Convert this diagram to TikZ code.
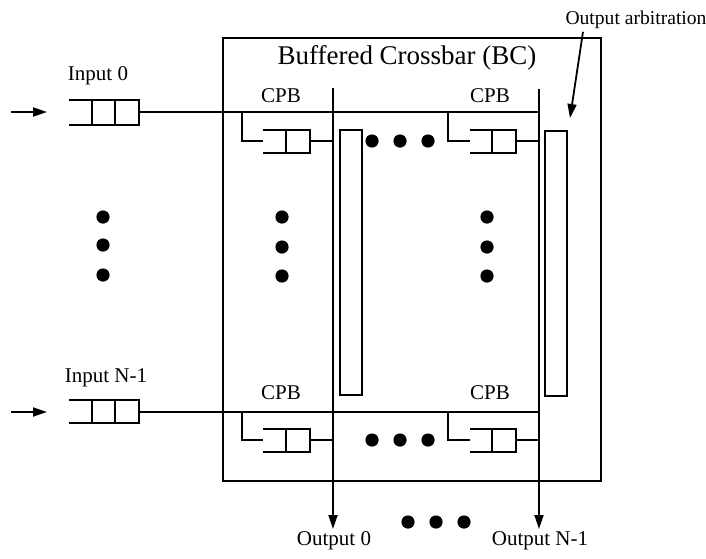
\documentclass[tikz,border=0pt]{standalone}
\usepackage{fontspec}
\setmainfont{Liberation Serif}
\usetikzlibrary{arrows.meta}
\tikzset{
  lbl/.style={font=\fontsize{10.5}{12}\selectfont, inner sep=1pt},
  arbbar/.style={draw, minimum width=11pt, minimum height=132.5pt, inner sep=0pt},
  arr/.style={-{Triangle[length=7pt,width=4.5pt]}}
}

\begin{document}
\begin{tikzpicture}[x=0.5pt,y=-0.5pt,line width=0.9pt]
\useasboundingbox (0,0) rectangle (706,558);
% crossbar box
\draw (223,38) rectangle (601,481);
\node[font=\fontsize{13.5}{16}\selectfont] (title) at (407,58) {Buffered Crossbar (BC)};
% input 0
\node[lbl] (lin0) at (98,76) {Input 0};
\coordinate (src0) at (11,112);
\coordinate (q0in) at (47,112);
\draw[arr] (src0) -- (q0in);
\draw (69,100) -- (139,100) -- (139,125) -- (69,125);
\draw (92,100) -- (92,125);
\draw (115,100) -- (115,125);
\coordinate (q0out) at (139,112);
% input N-1
\node[lbl] (linN) at (106,378) {Input N-1};
\coordinate (srcN) at (11,412);
\coordinate (qNin) at (47,412);
\draw[arr] (srcN) -- (qNin);
\draw (69,400) -- (139,400) -- (139,423) -- (69,423);
\draw (92,400) -- (92,423);
\draw (115,400) -- (115,423);
\coordinate (qNout) at (139,412);
% outputs
\node[lbl,anchor=north] (lout0) at (334,529) {Output 0};
\node[lbl,anchor=north] (loutN) at (540,529) {Output N-1};
\coordinate (o0top) at (333,88);
\coordinate (oNtop) at (539,89);
\draw[arr] (o0top) -- (o0top |- lout0.north);
\draw[arr] (oNtop) -- (oNtop |- loutN.north);
% rows
\coordinate (r0end) at (539,112);
\coordinate (rNend) at (539,412);
\draw (q0out) -- (r0end);
\draw (qNout) -- (rNend);
% crosspoint buffers
\node[lbl] (cpb00) at (281,96) {CPB};
\node[lbl] (cpb01) at (490,96) {CPB};
\node[lbl] (cpb10) at (281,393) {CPB};
\node[lbl] (cpb11) at (490,393) {CPB};
\draw (242,112) |- (263,141);
\draw (263,130) -- (310,130) -- (310,153) -- (263,153);
\draw (286,130) -- (286,153);
\draw (310,141) -- (333,141);
\draw (448,112) |- (470,141);
\draw (470,130) -- (516,130) -- (516,153) -- (470,153);
\draw (492,130) -- (492,153);
\draw (516,141) -- (539,141);
\draw (242,412) |- (263,440);
\draw (263,429) -- (310,429) -- (310,452) -- (263,452);
\draw (286,429) -- (286,452);
\draw (310,440) -- (333,440);
\draw (448,412) |- (470,440);
\draw (470,429) -- (516,429) -- (516,452) -- (470,452);
\draw (492,429) -- (492,452);
\draw (516,440) -- (539,440);
% output arbitration
\node[arbbar] (arb0) at (351,262.5) {};
\node[arbbar] (arbN) at (556,263.5) {};
\node[font=\fontsize{9.8}{12}\selectfont, inner sep=1pt] (larb) at (636,20) {Output arbitration};
\coordinate (arbtip) at (570,118);
\draw[arr] ([xshift=-26.5pt]larb.south) -- (arbtip);
% dots
\fill (372,141) circle (3.3pt);
\fill (400,141) circle (3.3pt);
\fill (428,141) circle (3.3pt);
\fill (372,440) circle (3.3pt);
\fill (400,440) circle (3.3pt);
\fill (428,440) circle (3.3pt);
\fill (103,217) circle (3.3pt);
\fill (103,245) circle (3.3pt);
\fill (103,275) circle (3.3pt);
\fill (282,217) circle (3.3pt);
\fill (282,247) circle (3.3pt);
\fill (282,276) circle (3.3pt);
\fill (487,217) circle (3.3pt);
\fill (487,247) circle (3.3pt);
\fill (487,276) circle (3.3pt);
\fill (408,522) circle (3.3pt);
\fill (436,522) circle (3.3pt);
\fill (464,522) circle (3.3pt);
\end{tikzpicture}
\end{document}
